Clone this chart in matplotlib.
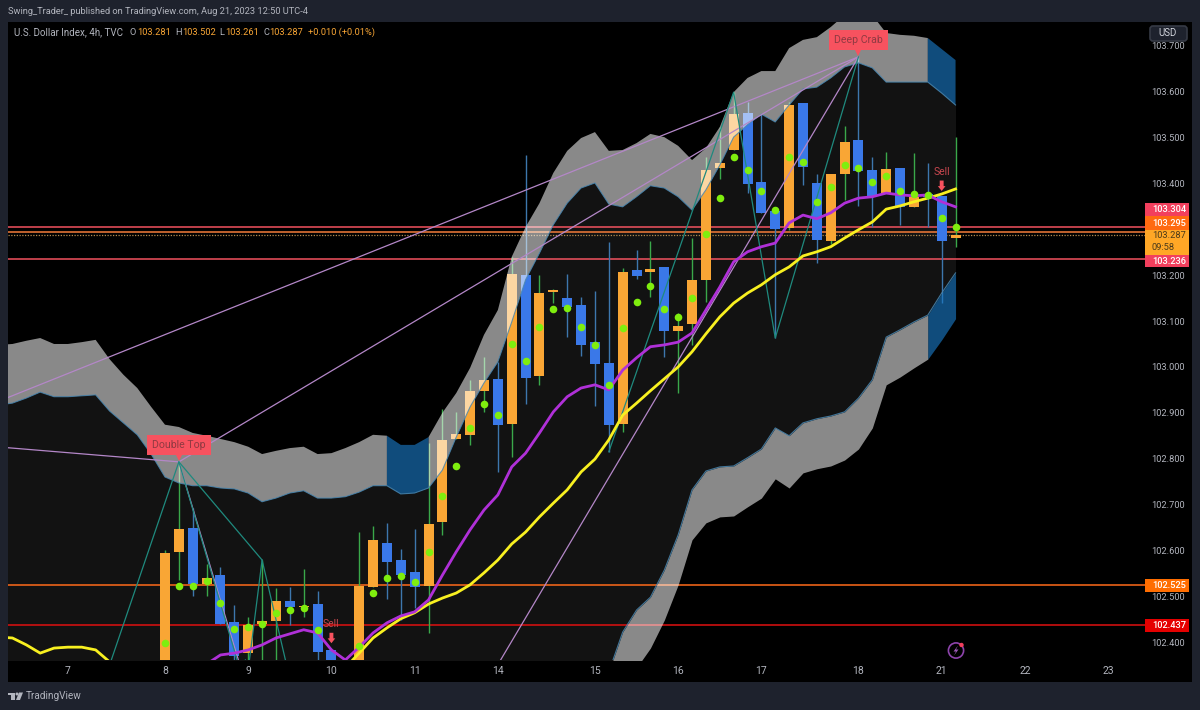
import numpy as np
import matplotlib
matplotlib.use("Agg")
import matplotlib.pyplot as plt
from matplotlib.patches import Rectangle, FancyBboxPatch, Circle, Polygon
from matplotlib.transforms import offset_copy

plt.rcParams['font.family'] = ['Roboto', 'DejaVu Sans']

# ---- data -------------------------------------------------------------
opens = [102.318,102.597,102.649,102.527,102.546,102.444,102.376,102.440,102.446,102.490,
         102.477,102.483,102.383,102.296,102.328,102.520,102.616,102.579,102.553,102.523,
         102.662,102.843,102.852,102.948,102.974,102.876,103.201,102.980,103.163,103.150,
         103.135,103.054,103.009,102.876,103.211,103.207,103.218,103.078,103.094,103.190,
         103.434,103.473,103.554,103.403,103.340,103.303,103.575,103.401,103.275,103.421,
         103.495,103.429,103.379,103.434,103.349,103.377,103.373,103.281]
highs = [102.601,102.793,102.693,102.570,102.564,102.481,102.455,102.579,102.518,102.520,
         102.560,102.512,102.387,102.344,102.640,102.653,102.660,102.603,102.647,102.834,
         102.908,102.902,102.972,103.022,103.011,103.240,103.462,103.201,103.170,103.203,
         103.153,103.166,103.272,103.216,103.255,103.275,103.218,103.118,103.281,103.458,
         103.523,103.599,103.578,103.551,103.349,103.578,103.575,103.421,103.421,103.525,
         103.676,103.458,103.469,103.434,103.466,103.445,103.373,103.502]
lows = [102.296,102.536,102.501,102.501,102.440,102.344,102.350,102.350,102.350,102.438,
        102.455,102.350,102.296,102.285,102.318,102.520,102.494,102.448,102.475,102.420,
        102.634,102.843,102.830,102.902,102.771,102.804,102.919,102.961,103.139,103.065,
        103.024,102.915,102.815,102.858,103.192,103.153,103.022,102.943,103.048,103.142,
        103.410,103.473,103.379,103.336,103.063,103.299,103.397,103.227,103.268,103.364,
        103.351,103.305,103.379,103.310,103.349,103.305,103.139,103.261]
closes = [102.594,102.647,102.527,102.540,102.440,102.370,102.438,102.446,102.490,102.477,
          102.479,102.379,102.318,102.328,102.523,102.623,102.575,102.546,102.520,102.658,
          102.841,102.854,102.948,102.972,102.874,103.203,102.976,103.161,103.168,103.131,
          103.048,103.006,102.874,103.207,103.198,103.214,103.078,103.089,103.190,103.429,
          103.445,103.551,103.399,103.336,103.301,103.571,103.436,103.277,103.421,103.490,
          103.427,103.373,103.432,103.349,103.371,103.371,103.275,103.287]
dots = [102.398,102.523,102.523,102.533,102.485,102.429,102.433,102.440,102.464,102.470,
        102.475,102.427,np.nan,np.nan,102.392,102.507,102.540,102.544,102.531,102.597,
        102.719,102.784,102.867,102.919,102.895,103.050,103.013,103.087,103.126,103.129,
        103.087,103.048,102.961,103.085,103.142,103.177,103.126,103.109,103.150,103.290,
        103.368,103.458,103.429,103.384,103.342,103.458,103.447,103.360,103.392,103.440,
        103.434,103.403,103.416,103.384,103.377,103.375,103.325,103.305]

# band series start 12 bars before the first candle
upper_top = [103.048,103.050,103.057,103.063,103.050,103.050,103.054,103.059,103.017,102.983,
             102.954,102.913,102.874,102.869,102.856,102.850,102.843,102.836,102.826,102.810,
             102.817,102.823,102.826,102.810,102.812,102.823,102.836,102.852,102.850,102.830,
             102.830,102.847,102.900,102.943,102.998,103.070,103.124,103.240,103.305,103.357,
             103.423,103.471,103.499,103.512,103.471,103.473,103.488,103.508,103.501,103.482,
             103.451,103.477,103.523,103.599,103.630,103.645,103.645,103.695,103.713,103.719,
             103.741,103.767,103.774,103.767,103.728,103.724,103.722,103.717,103.693,103.669]
upper_bot = [102.917,102.921,102.932,102.945,102.935,102.935,102.937,102.939,102.904,102.878,
             102.852,102.810,102.760,102.747,102.741,102.741,102.736,102.734,102.725,102.706,
             102.714,102.725,102.730,102.714,102.714,102.717,102.727,102.741,102.741,102.723,
             102.725,102.736,102.775,102.847,102.913,102.965,103.011,103.098,103.190,103.248,
             103.310,103.357,103.390,103.401,103.355,103.349,103.371,103.395,103.390,103.371,
             103.342,103.386,103.440,103.501,103.528,103.551,103.534,103.571,103.606,103.610,
             103.630,103.654,103.663,103.652,103.621,103.621,103.621,103.621,103.597,103.571]
lower_top = [102.22,102.22,102.23,102.24,102.23,102.23,102.22,102.22,102.20,102.19,
             102.18,102.17,102.16,102.16,102.16,102.15,102.15,102.15,102.14,102.14,
             102.14,102.14,102.15,102.14,102.14,102.15,102.16,102.17,102.17,102.17,
             102.18,102.19,102.19,102.20,102.21,102.22,102.23,102.24,102.25,102.26,
             102.27,102.28,102.30,102.32,
             102.335,102.422,102.470,102.498,102.557,102.634,102.732,102.773,102.782,102.784,
             102.802,102.821,102.867,102.850,102.878,102.887,102.893,102.902,102.932,102.972,
             103.065,103.081,103.098,103.113,103.161,103.205]
lower_bot = [102.274,102.318,102.344,102.387,102.448,102.525,102.623,102.660,102.673,102.675,
             102.695,102.714,102.756,102.736,102.769,102.778,102.784,102.797,102.821,102.867,
             102.961,102.978,102.998,103.017,103.059,103.105]
yellow_ma = [102.411,102.409,102.394,102.376,102.387,102.389,102.389,102.383,102.357,102.318,
             102.285,102.263,102.248,102.241,102.235,102.235,102.241,102.248,102.257,102.263,
             102.274,102.283,102.291,102.300,102.318,102.344,102.376,102.409,102.431,102.451,
             102.464,102.483,102.496,102.507,102.525,102.551,102.579,102.614,102.640,102.673,
             102.703,102.732,102.771,102.799,102.841,102.895,102.921,102.948,102.974,103.000,
             103.033,103.072,103.109,103.139,103.161,103.179,103.201,103.218,103.242,103.251,
             103.262,103.281,103.299,103.316,103.344,103.351,103.360,103.368,103.377,103.388]
magenta_ma = [102.335,102.352,102.372,102.376,102.383,102.394,102.409,102.418,
              102.427,102.420,102.383,102.361,102.389,102.420,102.442,102.457,102.466,102.492,
              102.546,102.597,102.645,102.688,102.721,102.782,102.812,102.856,102.902,102.935,
              102.954,102.961,102.950,102.993,103.020,103.044,103.048,103.054,103.074,103.124,
              103.174,103.229,103.251,103.262,103.270,103.314,103.331,103.323,103.336,103.357,
              103.368,103.371,103.379,103.375,103.373,103.375,103.360,103.349]

level_values = [103.304, 103.295, 103.236, 102.525, 102.437]
level_colors = ['#f2525f', '#f57c3a', '#f2525f', '#ff6a1a', '#e01010']
last_price = 103.287

price_ticks = [103.7, 103.6, 103.5, 103.4, 103.2, 103.1, 103.0, 102.9, 102.8, 102.7, 102.6, 102.5, 102.4]
day_positions = [-7, 0, 6, 12, 18, 24, 31, 37, 43, 50, 56, 62, 68]
day_labels = ['7', '8', '9', '10', '11', '14', '15', '16', '17', '18', '21', '22', '23']

# harmonic pattern legs: (bar, price)
purple_legs = [[(-13, 102.913), (50, 103.676)],
               [(1, 102.793), (50, 103.676)],
               [(23, 102.300), (50, 103.676)],
               [(-13, 102.828), (1, 102.793)],
               [(1, 102.793), (5.6, 102.330)]]
teal_legs = [[(-5, 102.261), (1, 102.793), (7, 102.579), (6, 102.340), (5.8, 102.361)],
             [(1, 102.793), (5.4, 102.340)],
             [(7, 102.579), (9, 102.320)],
             [(32, 102.815), (41, 103.599), (44, 103.063), (50, 103.676)]]

pattern_labels = [('Double Top', 1, 102.793), ('Deep Crab', 50, 103.676)]
sell_bars = [12, 56]

# ---- style ------------------------------------------------------------
W, H = 1200, 710
FRAME = '#1e222d'; TXT = '#b2b5be'; ORANGE = '#f9a635'; BLUE = '#3a78e8'
fig = plt.figure(figsize=(12, 7.1), dpi=100, facecolor=FRAME)
panel = Rectangle((8/W, (H-682)/H), (1192-8)/W, (682-22)/H,
                  transform=fig.transFigure, fc='black', ec='none', zorder=-1)
fig.add_artist(panel)
ax = fig.add_axes([8/W, (H-660)/H, (1145-8)/W, (660-22)/H], facecolor='none', zorder=1)
ax.set_xlim(-11.32, 70.66)
ax.set_ylim(102.361, 103.752)
for s in ax.spines.values():
    s.set_visible(False)
ax.yaxis.tick_right()
ax.set_yticks(price_ticks, [f'{v:.3f}' for v in price_ticks])
ax.set_xticks(day_positions, day_labels)
ax.tick_params(axis='y', length=0, pad=4.8, labelsize=6.7, labelcolor=TXT)
ax.tick_params(axis='x', length=0, pad=4, labelsize=7.5, labelcolor=TXT)

bars = np.arange(len(closes))
band_x = np.arange(-12, 58)
low_x = band_x[44:]
ut, ub, lt, lb = map(np.array, (upper_top, upper_bot, lower_top, lower_bot))

# interior of the envelope
ax.fill_between(band_x, ub, lt, color='#121212', lw=0, zorder=1)

# levels, behind the candles
for v, c in zip(level_values, level_colors):
    ax.axhline(v, color=c, lw=1.1, zorder=2)
ax.axhline(last_price, color='#b08a50', lw=0.9, ls=(0, (1, 1.2)), zorder=2)

# candles
for i, o, h, l, c in zip(bars, opens, highs, lows, closes):
    up = c >= o
    ax.vlines(i, l, h, color='#3aa84a' if up else '#3d77ad', lw=1.0, zorder=3)
    ax.bar(i, abs(c-o), bottom=min(o, c), width=0.72,
           color=ORANGE if up else BLUE, lw=0, zorder=3.5)

# bands over the candles
grey = (band_x <= 16) | ((band_x >= 19) & (band_x <= 55))
blue = ((band_x >= 16) & (band_x <= 19)) | (band_x >= 55)
ax.fill_between(band_x, ub, ut, where=grey, color='white', alpha=0.54, lw=0, zorder=5)
ax.fill_between(band_x, ub, ut, where=blue, color='#1976c0', alpha=0.65, lw=0, zorder=5)
ax.fill_between(low_x, lb, lt[44:], where=low_x <= 55, color='white', alpha=0.54, lw=0, zorder=5)
ax.fill_between(low_x, lb, lt[44:], where=low_x >= 55, color='#1976c0', alpha=0.65, lw=0, zorder=5)
ax.plot(band_x, ub, color='#4a87b0', lw=0.8, alpha=0.85, zorder=5.5)
ax.plot(low_x, lt[44:], color='#4a87b0', lw=0.8, alpha=0.85, zorder=5.5)

# harmonic legs
for leg in purple_legs:
    xs, ys = zip(*leg)
    ax.plot(xs, ys, color='#b487c8', lw=0.9, zorder=6)
for leg in teal_legs:
    xs, ys = zip(*leg)
    ax.plot(xs, ys, color='#1f8a7e', lw=0.9, zorder=6)

# moving averages and dots
ax.plot(band_x, yellow_ma, color='#f8f020', lw=2.0, zorder=7, solid_joinstyle='round')
ax.plot(np.arange(2, 58), magenta_ma, color='#b030d8', lw=2.0, zorder=7.2, solid_joinstyle='round')
ax.scatter(bars, dots, s=30, color='#7fee0e', lw=0, zorder=8)

# pattern labels
RED = '#f7525f'
for text, i, p in pattern_labels:
    ax.annotate(text, xy=(i, p), xytext=(0, 12), textcoords='offset points',
                ha='center', va='center', fontsize=7.6, color='#8f3a42', zorder=9,
                bbox=dict(boxstyle='square,pad=0.5', fc=RED, ec='none'), annotation_clip=False)
    ax.plot([i], [p], marker='v', ms=6.5, color=RED, mew=0, lw=0, zorder=9,
            transform=offset_copy(ax.transData, fig=fig, x=0, y=4.5, units='points'))

# sell signals
for i in sell_bars:
    ax.annotate('Sell', xy=(i, highs[i]), xytext=(0, 17), textcoords='offset points',
                ha='center', va='center', fontsize=7.5, color='#c8474f', zorder=9)
    ax.annotate('', xy=(i, highs[i]), xytext=(0, 11), textcoords='offset points', zorder=9,
                arrowprops=dict(arrowstyle='simple,head_width=0.55,head_length=0.35,tail_width=0.28',
                                color=RED, lw=0, shrinkA=0, shrinkB=3.5))

# ---- chrome, in pixel coordinates --------------------------------------
ui = fig.add_axes([0, 0, 1, 1], facecolor='none', zorder=2)
ui.set_xlim(0, W); ui.set_ylim(H, 0); ui.axis('off')

ui.text(8, 11.5, 'Swing_Trader_ published on TradingView.com, Aug 21, 2023 12:50 UTC-4',
        color=TXT, fontsize=6.7, va='center')
ui.text(14, 32.5, 'U.S. Dollar Index, 4h, TVC', color=TXT, fontsize=7, va='center')
header_parts = [(130, 'O', TXT), (137, '103.281', ORANGE), (175, 'H', TXT), (182, '103.502', ORANGE),
                (219, 'L', TXT), (225, '103.261', ORANGE), (263, 'C', TXT), (269, '103.287', ORANGE),
                (308, '+0.010 (+0.01%)', ORANGE)]
for x, t, c in header_parts:
    ui.text(x, 32.5, t, color=c, fontsize=6.7, va='center')

ui.add_patch(FancyBboxPatch((1150, 26), 37, 15, boxstyle='round,pad=0,rounding_size=3',
                            fc=FRAME, ec='#363a45', lw=1.2, mutation_aspect=1))
ui.text(1168, 33.5, 'USD', color='#d1d4dc', fontsize=7, ha='center', va='center')

tags = [(203, 216, '#f23f5d', '103.304', 'white'), (216, 230, '#ff6a10', '103.295', 'white'),
        (255, 267, '#f23f5d', '103.236', 'white'), (579, 592, '#ff6d00', '102.525', 'white'),
        (619, 632, '#e50000', '102.437', 'white')]
for y0, y1, c, t, tc in tags:
    ui.add_patch(Rectangle((1145, y0), 44, y1-y0, fc=c, ec='none'))
    ui.text(1152, (y0+y1)/2, t, color=tc, fontsize=6.7, ha='left', va='center', fontweight='medium')
ui.add_patch(Rectangle((1145, 230), 44, 25, fc='#ffa726', ec='none'))
ui.text(1152, 236, '103.287', color='#4a3a1a', fontsize=6.7, ha='left', va='center')
ui.text(1152, 247, '09:58', color='#4a3a1a', fontsize=6.7, ha='left', va='center')

# bolt icon
ui.add_patch(Circle((956, 650.5), 7.6, fc='none', ec='#8e44ad', lw=1.2))
ui.add_patch(Polygon([(958, 645.5), (953.5, 651.5), (956, 651.5), (954, 655.5), (958.5, 649.5), (956, 649.5)],
                     fc='#9b59b6', ec='none'))
ui.add_patch(Circle((961.5, 645), 2.2, fc='#f23f5d', ec='none'))

# TradingView mark
ui.add_patch(Polygon([(8, 692.5), (14.5, 692.5), (14.5, 700), (11, 700), (11, 695), (8, 695)], fc=TXT, ec='none'))
ui.add_patch(Circle((17, 694), 1.5, fc=TXT, ec='none'))
ui.add_patch(Polygon([(19, 692.5), (23, 692.5), (20, 700), (16, 700)], fc=TXT, ec='none'))
ui.text(26, 696, 'TradingView', color=TXT, fontsize=7.2, va='center')

fig.savefig('out.png', dpi=100, facecolor=FRAME)
